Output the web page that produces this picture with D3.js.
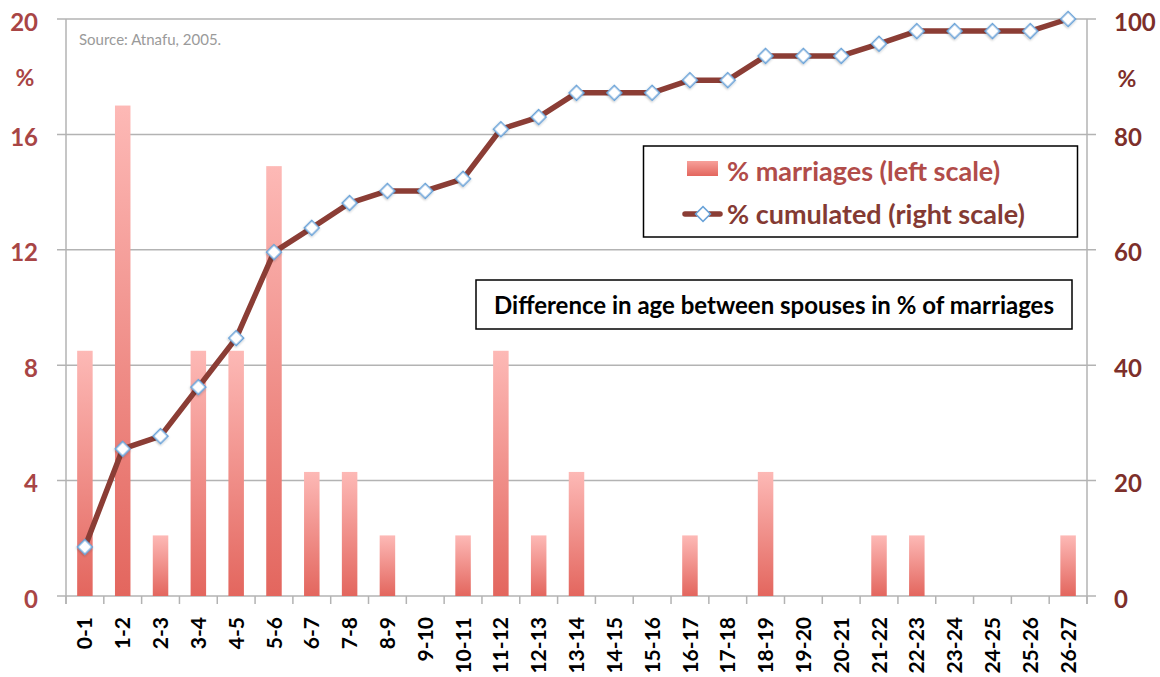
<!DOCTYPE html>
<html><head><meta charset="utf-8">
<script src="https://cdn.jsdelivr.net/npm/d3@7"></script>
<style>body{margin:0;background:#fff}svg{display:block}</style>
</head><body>
<svg id="c" width="1160" height="677"></svg>
<script>
const categories = ["0-1","1-2","2-3","3-4","4-5","5-6","6-7","7-8","8-9","9-10","10-11","11-12","12-13","13-14","14-15","15-16","16-17","17-18","18-19","19-20","20-21","21-22","22-23","23-24","24-25","25-26","26-27"];
const marriages = [8.5,17.0,2.1,8.5,8.5,14.9,4.3,4.3,2.1,0,2.1,8.5,2.1,4.3,0,0,2.1,0,4.3,0,0,2.1,2.1,0,0,0,2.1];
const cumulated = [8.5,25.5,27.7,36.2,44.7,59.6,63.8,68.1,70.2,70.2,72.3,80.9,83.0,87.2,87.2,87.2,89.4,89.4,93.6,93.6,93.6,95.7,97.9,97.9,97.9,97.9,100];
const leftTicks = [0,4,8,12,16,20];
const rightTicks = [0,20,40,60,80,100];

const svg = d3.select("#c");
const m = {l:66, r:1087, t:19, b:596};
const font = "Lato, 'Open Sans', sans-serif";

const x = d3.scaleBand().domain(categories).range([m.l, m.r]).paddingInner(0).paddingOuter(0);
const yL = d3.scaleLinear().domain([0,20]).range([m.b, m.t]);
const yR = d3.scaleLinear().domain([0,100]).range([m.b, m.t]);

const defs = svg.append("defs");
const g = defs.append("linearGradient").attr("id","barg").attr("x1",0).attr("y1",0).attr("x2",0).attr("y2",1);
g.append("stop").attr("offset","0%").attr("stop-color","#fdb9b6");
g.append("stop").attr("offset","100%").attr("stop-color","#e3665e");
const gl = defs.append("linearGradient").attr("id","barl").attr("x1",0).attr("y1",0).attr("x2",0).attr("y2",1);
gl.append("stop").attr("offset","0%").attr("stop-color","#f7a09a");
gl.append("stop").attr("offset","100%").attr("stop-color","#e3665e");
const sh = defs.append("filter").attr("id","sh").attr("x","-50%").attr("y","-50%").attr("width","200%").attr("height","200%");
sh.append("feDropShadow").attr("dx",0.5).attr("dy",1).attr("stdDeviation",1).attr("flood-color","#000").attr("flood-opacity",0.25);

// gridlines
svg.append("g").selectAll("line").data(leftTicks).join("line")
  .attr("x1", m.l-9).attr("x2", m.r+9)
  .attr("y1", d=>yL(d)).attr("y2", d=>yL(d))
  .attr("stroke","#b3b3b3").attr("stroke-width",1.5);

// axis lines
svg.append("line").attr("x1",m.l).attr("x2",m.l).attr("y1",m.t).attr("y2",m.b+8).attr("stroke","#b3b3b3").attr("stroke-width",1.5);
svg.append("line").attr("x1",m.r).attr("x2",m.r).attr("y1",m.t).attr("y2",m.b+8).attr("stroke","#b3b3b3").attr("stroke-width",1.5);

// x ticks
const xt = categories.map(c=>x(c)).concat([m.r]);
svg.append("g").selectAll("line").data(xt).join("line")
  .attr("x1", d=>d).attr("x2", d=>d).attr("y1", m.b).attr("y2", m.b+8)
  .attr("stroke","#b3b3b3").attr("stroke-width",1.5);

// bars
const bw = 15.5;
svg.append("g").selectAll("rect").data(categories.map((c,i)=>({c, v:marriages[i]})).filter(d=>d.v>0)).join("rect")
  .attr("x", d=>x(d.c)+x.bandwidth()/2-bw/2)
  .attr("width", bw)
  .attr("y", d=>yL(d.v))
  .attr("height", d=>yL(0)-yL(d.v))
  .attr("fill","url(#barg)");

// line
const line = d3.line().x((d,i)=>x(categories[i])+x.bandwidth()/2).y(d=>yR(d));
svg.append("path").datum(cumulated).attr("d", line)
  .attr("fill","none").attr("stroke","#8b3d35").attr("stroke-width",5.5).attr("stroke-linejoin","round");

const dsym = d3.symbol().type(d3.symbolSquare).size(110)();
svg.append("g").selectAll("path").data(cumulated).join("path")
  .attr("transform",(d,i)=>`translate(${x(categories[i])+x.bandwidth()/2},${yR(d)}) rotate(45)`)
  .attr("d", dsym).attr("filter","url(#sh)")
  .attr("fill","#fff").attr("stroke","#6aa3d8").attr("stroke-width",1.6);

// left axis labels
svg.append("g").selectAll("text").data(leftTicks).join("text")
  .attr("x", 38).attr("y", d=>yL(d)+3).attr("dy","0.36em")
  .attr("text-anchor","end").attr("font-family",font).attr("font-weight","bold")
  .attr("font-size",24).attr("fill","#a84545").text(d=>d);
svg.append("text").attr("x",25).attr("y",78).attr("dy","0.36em").attr("text-anchor","middle")
  .attr("font-family",font).attr("font-weight","bold").attr("font-size",23).attr("fill","#a84545").text("%");

// right axis labels
svg.append("g").selectAll("text").data(rightTicks).join("text")
  .attr("x", 1114).attr("y", d=>yR(d)+3).attr("dy","0.36em")
  .attr("text-anchor","start").attr("font-family",font).attr("font-weight","bold")
  .attr("font-size",24).attr("fill","#7d2f2a").text(d=>d);
svg.append("text").attr("x",1127).attr("y",79).attr("dy","0.36em").attr("text-anchor","middle")
  .attr("font-family",font).attr("font-weight","bold").attr("font-size",23).attr("fill","#7d2f2a").text("%");

// x labels
svg.append("g").selectAll("text").data(categories).join("text")
  .attr("transform", d=>`translate(${x(d)+x.bandwidth()/2},617) rotate(-90)`)
  .attr("dy","0.36em").attr("text-anchor","end")
  .attr("font-family",font).attr("font-weight","bold").attr("font-size",21).attr("fill","#000").text(d=>d);

// source
svg.append("text").attr("x",79).attr("y",45).attr("font-family",font).attr("font-size",15)
  .attr("fill","#9a9a9a").text("Source: Atnafu, 2005.");

// legend
const lg = svg.append("g");
lg.append("rect").attr("x",643.5).attr("y",146).attr("width",434).attr("height",91)
  .attr("fill","#fff").attr("stroke","#000").attr("stroke-width",1.5);
lg.append("rect").attr("x",687).attr("y",161).attr("width",31).attr("height",15).attr("fill","url(#barl)");
lg.append("text").attr("x",727).attr("y",171).attr("dy","0.36em").attr("font-family",font).attr("font-weight","bold")
  .attr("font-size",27).attr("fill","#b14c49").text("% marriages (left scale)");
lg.append("line").attr("x1",685).attr("x2",720).attr("y1",214).attr("y2",214).attr("stroke","#8b3d35").attr("stroke-width",5.5).attr("stroke-linecap","round");
lg.append("path").attr("transform","translate(703,214) rotate(45)").attr("d", dsym)
  .attr("fill","#fff").attr("stroke","#6aa3d8").attr("stroke-width",1.6);
lg.append("text").attr("x",727).attr("y",214).attr("dy","0.36em").attr("font-family",font).attr("font-weight","bold")
  .attr("font-size",27).attr("fill","#843a33").text("% cumulated (right scale)");

// title box
const tb = svg.append("g");
tb.append("rect").attr("x",476).attr("y",280).attr("width",596).attr("height",49)
  .attr("fill","#fff").attr("stroke","#000").attr("stroke-width",1.5);
tb.append("text").attr("x",774).attr("y",305).attr("dy","0.36em").attr("text-anchor","middle")
  .attr("font-family",font).attr("font-weight","bold").attr("font-size",24).attr("fill","#000")
  .text("Difference in age between spouses in % of marriages");
</script>
</body></html>
